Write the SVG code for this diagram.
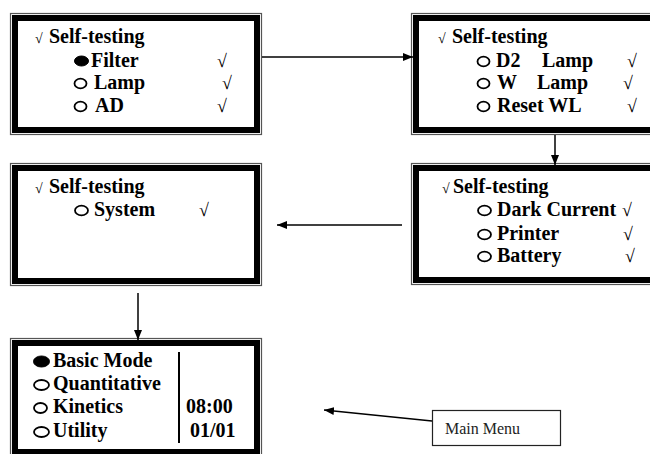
<svg xmlns="http://www.w3.org/2000/svg" width="650" height="454" viewBox="0 0 650 454">
  <style>
    .thin { fill: none; stroke: #555; stroke-width: 1.2; }
    .thick { fill: none; stroke: #000; stroke-width: 6; }
    .t { font-family: "Liberation Serif", "Times New Roman", serif; font-weight: bold; font-size: 20px; fill: #000; }
    .ck { font-family: "Liberation Serif", "Times New Roman", serif; font-size: 18px; fill: #000; }
    .ck0 { font-family: "Liberation Serif", "Times New Roman", serif; font-size: 14px; fill: #000; }
    .on { fill: #000; stroke: #000; stroke-width: 1; }
    .off { fill: #fff; stroke: #000; stroke-width: 1.8; }
    .line { stroke: #000; stroke-width: 1.5; fill: none; }
    .note { font-family: "Liberation Serif", "Times New Roman", serif; font-size: 16px; fill: #222; }
  </style>
  <defs>
    <marker id="arr" viewBox="0 0 10 8" refX="10" refY="4" markerWidth="10" markerHeight="8" markerUnits="userSpaceOnUse" orient="auto">
      <path d="M0,0 L10,4 L0,8 Z" fill="#000"/>
    </marker>
  </defs>

  <!-- Self-testing page 1 -->
  <g id="screen-filter">
    <rect class="thin" x="10.5" y="13.5" width="251" height="121"/>
    <rect class="thick" x="15" y="18" width="242" height="112"/>
    <text class="ck0" x="35" y="43">√</text>
    <text class="t" x="49" y="43">Self-testing</text>
    <ellipse class="on" cx="81.5" cy="61" rx="7" ry="5"/><text class="t" x="91" y="67">Filter</text><text class="ck" x="217" y="67">√</text>
    <ellipse class="off" cx="80.5" cy="83.5" rx="6" ry="4.8"/><text class="t" x="94" y="89">Lamp</text><text class="ck" x="222" y="89">√</text>
    <ellipse class="off" cx="80.5" cy="106.5" rx="6" ry="4.8"/><text class="t" x="95" y="112">AD</text><text class="ck" x="217" y="112">√</text>
  </g>

  <!-- Self-testing page 2 -->
  <g id="screen-lamps">
    <rect class="thin" x="411.5" y="13.5" width="300" height="121"/>
    <rect class="thick" x="416" y="18" width="300" height="112"/>
    <text class="ck0" x="438" y="43">√</text>
    <text class="t" x="452" y="43">Self-testing</text>
    <ellipse class="off" cx="483.5" cy="61.5" rx="6" ry="4.8"/><text class="t" x="496" y="67">D2</text><text class="t" x="542" y="67">Lamp</text><text class="ck" x="627" y="67">√</text>
    <ellipse class="off" cx="483.5" cy="83.5" rx="6" ry="4.8"/><text class="t" x="497" y="89">W</text><text class="t" x="537" y="89">Lamp</text><text class="ck" x="623" y="89">√</text>
    <ellipse class="off" cx="483.5" cy="106.5" rx="6" ry="4.8"/><text class="t" x="497" y="112">Reset WL</text><text class="ck" x="627" y="112">√</text>
  </g>

  <!-- Self-testing page 3 -->
  <g id="screen-current">
    <rect class="thin" x="411.5" y="163.5" width="300" height="121"/>
    <rect class="thick" x="416" y="168" width="300" height="112"/>
    <text class="ck0" x="442" y="193">√</text>
    <text class="t" x="453" y="193">Self-testing</text>
    <ellipse class="off" cx="484.5" cy="210.5" rx="6.5" ry="4.8"/><text class="t" x="497" y="216">Dark Current</text><text class="ck" x="622" y="216">√</text>
    <ellipse class="off" cx="484.5" cy="234.5" rx="6.5" ry="4.8"/><text class="t" x="497" y="240">Printer</text><text class="ck" x="623" y="240">√</text>
    <ellipse class="off" cx="484.5" cy="256.5" rx="6.5" ry="4.8"/><text class="t" x="497" y="262">Battery</text><text class="ck" x="625" y="262">√</text>
  </g>

  <!-- Self-testing page 4 -->
  <g id="screen-system">
    <rect class="thin" x="10.5" y="163.5" width="251" height="122"/>
    <rect class="thick" x="15" y="168" width="242" height="113"/>
    <text class="ck0" x="35" y="193">√</text>
    <text class="t" x="49" y="193">Self-testing</text>
    <ellipse class="off" cx="81.5" cy="210.5" rx="6.5" ry="4.8"/><text class="t" x="94" y="216">System</text><text class="ck" x="199" y="216">√</text>
  </g>

  <!-- Main menu screen -->
  <g id="screen-main">
    <rect class="thin" x="10.5" y="338.5" width="251" height="121"/>
    <rect class="thick" x="15" y="343" width="242" height="109"/>
    <line x1="179" y1="352" x2="179" y2="443" stroke="#000" stroke-width="2"/>
    <ellipse class="on" cx="41.5" cy="361.5" rx="8" ry="5.5"/><text class="t" x="53" y="367">Basic Mode</text>
    <ellipse class="off" cx="41.5" cy="385" rx="7.5" ry="5"/><text class="t" x="53" y="390">Quantitative</text>
    <ellipse class="off" cx="40.5" cy="408" rx="6.5" ry="5"/><text class="t" x="53" y="413">Kinetics</text>
    <ellipse class="off" cx="41.5" cy="432" rx="7.5" ry="5"/><text class="t" x="53" y="437">Utility</text>
    <text class="t" x="186" y="413">08:00</text>
    <text class="t" x="190" y="437">01/01</text>
  </g>

  <!-- Callout label -->
  <g id="label-main-menu">
    <rect x="432.5" y="410.5" width="128" height="35" fill="#fff" stroke="#222" stroke-width="1.2"/>
    <text class="note" x="445" y="434">Main Menu</text>
  </g>

  <!-- Connectors -->
  <g id="connectors">
    <line class="line" x1="262" y1="57" x2="413" y2="57" marker-end="url(#arr)"/>
    <line class="line" x1="555" y1="135" x2="555" y2="165" marker-end="url(#arr)"/>
    <line class="line" x1="402" y1="225" x2="277" y2="225" marker-end="url(#arr)"/>
    <line class="line" x1="138" y1="293" x2="138" y2="340" marker-end="url(#arr)"/>
    <line class="line" x1="432" y1="421" x2="324" y2="410" marker-end="url(#arr)"/>
  </g>
</svg>
